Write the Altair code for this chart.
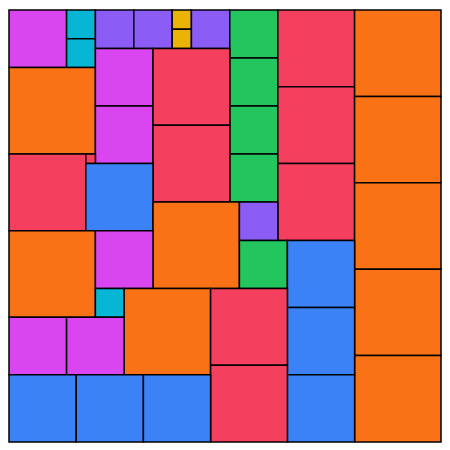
import altair as alt
import pandas as pd

# Squares: left, top, side length (in layout units, 450 x 450 canvas)
x0 = [0, 60, 60, 90, 130, 170, 170, 190, 230, 230, 230, 230, 280, 280, 280,
      360, 360, 360, 360, 360, 0, 90, 90, 150, 150, 0, 80, 80, 150, 240, 240,
      290, 290, 290, 0, 90, 90, 120, 210, 210, 0, 60, 0, 70, 140]
y0 = [0, 0, 30, 0, 0, 0, 20, 0, 0, 50, 100, 150, 0, 80, 160,
      0, 90, 180, 270, 360, 60, 40, 100, 40, 120, 150, 150, 160, 200, 200, 240,
      240, 310, 380, 230, 230, 290, 290, 290, 370, 320, 320, 380, 380, 380]
side = [60, 30, 30, 40, 40, 20, 20, 40, 50, 50, 50, 50, 80, 80, 80,
        90, 90, 90, 90, 90, 90, 60, 60, 80, 80, 80, 10, 70, 90, 40, 50,
        70, 70, 70, 90, 60, 30, 90, 80, 80, 60, 60, 70, 70, 70]

size_levels = [10, 20, 30, 40, 50, 60, 70, 80, 90]
size_colors = ["#f43f5e", "#eab308", "#06b6d4", "#8b5cf6", "#22c55e",
               "#d946ef", "#3b82f6", "#f43f5e", "#f97316"]

df = pd.DataFrame({"x0": x0, "y0": y0, "side": side})
df["x1"] = df["x0"] + df["side"]
df["y1"] = df["y0"] + df["side"]
df["size"] = df["side"].astype(str)

xs = alt.Scale(domain=[0, 450], nice=False, zero=False)
ys = alt.Scale(domain=[0, 450], nice=False, zero=False, reverse=True)

chart = alt.Chart(df).mark_rect(stroke="black", strokeWidth=1.5).encode(
    x=alt.X("x0:Q", scale=xs, axis=None),
    x2="x1:Q",
    y=alt.Y("y0:Q", scale=ys, axis=None),
    y2="y1:Q",
    color=alt.Color("size:N", legend=None,
                    scale=alt.Scale(domain=[str(s) for s in size_levels], range=size_colors)),
).properties(width=434, height=434, padding=0).configure_view(stroke=None)

chart.save("out.html", embed_options={"renderer": "svg", "actions": False})
